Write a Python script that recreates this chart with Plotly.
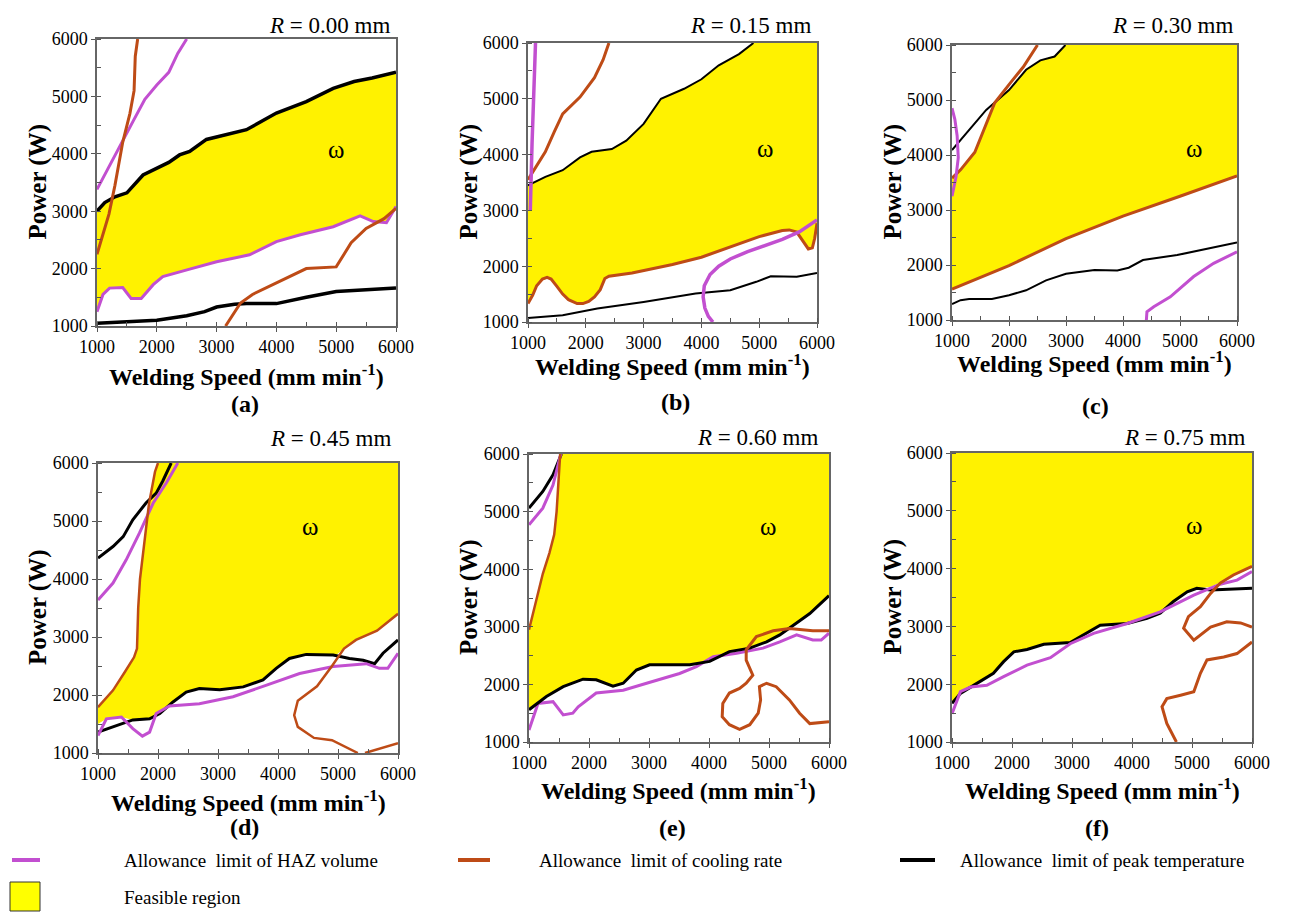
import plotly.graph_objects as go

# ---------------- data ----------------
TICKS = [1000, 2000, 3000, 4000, 5000, 6000]
R_VALUES = ["0.00", "0.15", "0.30", "0.45", "0.60", "0.75"]
PANEL_LABELS = ["(a)", "(b)", "(c)", "(d)", "(e)", "(f)"]
LEGEND_NAMES = ["Allowance  limit of HAZ volume", "Allowance  limit of cooling rate",
                "Allowance  limit of peak temperature", "Feasible region"]

# (a) R = 0.00 mm
a_peak_hi_x = [1000, 1130, 1300, 1500, 1770, 2050, 2200, 2380, 2550, 2830, 3050, 3500, 4000, 4500, 4950, 5300, 5600, 6000]
a_peak_hi_y = [3000, 3150, 3250, 3320, 3630, 3780, 3850, 3980, 4040, 4250, 4310, 4420, 4710, 4910, 5140, 5260, 5320, 5420]
a_peak_lo_x = [1000, 1500, 2000, 2500, 2800, 3000, 3300, 3500, 4000, 4500, 5000, 5500, 6000]
a_peak_lo_y = [1050, 1070, 1100, 1180, 1250, 1330, 1380, 1390, 1390, 1500, 1600, 1630, 1660]
a_haz_hi_x = [1000, 1200, 1400, 1600, 1800, 2000, 2200, 2350, 2500]
a_haz_hi_y = [3380, 3780, 4180, 4560, 4950, 5200, 5420, 5750, 6000]
a_haz_lo_x = [1000, 1100, 1210, 1430, 1570, 1740, 1940, 2100, 2550, 3000, 3550, 4000, 4400, 4950, 5400, 5620, 5840, 6000]
a_haz_lo_y = [1250, 1550, 1660, 1670, 1480, 1480, 1720, 1860, 1990, 2120, 2240, 2470, 2590, 2730, 2920, 2820, 2800, 3080]
a_cool_hi_x = [1000, 1100, 1200, 1300, 1430, 1550, 1620, 1640, 1680]
a_cool_hi_y = [2250, 2600, 2950, 3450, 4200, 4700, 5100, 5700, 6000]
a_cool_lo_x = [3150, 3400, 3600, 4000, 4500, 5000, 5100, 5250, 5500, 5800, 6000]
a_cool_lo_y = [1000, 1400, 1550, 1750, 2000, 2030, 2200, 2450, 2700, 2870, 3050]
a_region_x = [1000, 1130, 1300, 1500, 1770, 2050, 2200, 2380, 2550, 2830, 3050, 3500, 4000, 4500, 4950, 5300, 5600, 6000,
              6000, 5840, 5620, 5400, 4950, 4400, 4000, 3550, 3000, 2550, 2100, 1940, 1740, 1570, 1430, 1210, 1100, 1000]
a_region_y = [3000, 3150, 3250, 3320, 3630, 3780, 3850, 3980, 4040, 4250, 4310, 4420, 4710, 4910, 5140, 5260, 5320, 5420,
              3080, 2800, 2820, 2920, 2730, 2590, 2470, 2240, 2120, 1990, 1860, 1720, 1480, 1480, 1670, 1660, 1550, 1250]

# (b) R = 0.15 mm
b_peak_hi_x = [1000, 1300, 1600, 1900, 2100, 2450, 2700, 3000, 3300, 3700, 4000, 4300, 4650, 4900]
b_peak_hi_y = [3450, 3600, 3720, 3950, 4050, 4100, 4250, 4550, 5000, 5180, 5350, 5600, 5800, 6000]
b_peak_lo_x = [1000, 1600, 2200, 3000, 3900, 4500, 4950, 5200, 5650, 6000]
b_peak_lo_y = [1070, 1120, 1240, 1360, 1510, 1570, 1720, 1820, 1810, 1880]
b_cool_lo_x = [1000, 1080, 1150, 1250, 1330, 1400, 1500, 1600, 1700, 1850, 1950, 2050, 2150, 2250, 2330, 2400,
               2800, 3500, 4000, 4500, 5000, 5400, 5520, 5650, 5780, 5850, 5920, 5960, 6000]
b_cool_lo_y = [1330, 1480, 1650, 1770, 1800, 1770, 1640, 1500, 1400, 1330, 1330, 1370, 1450, 1580, 1780, 1820,
               1880, 2030, 2160, 2340, 2530, 2640, 2650, 2610, 2420, 2310, 2330, 2500, 2770]
b_cool_hi_x = [1000, 1150, 1300, 1450, 1600, 1900, 2150, 2300, 2400]
b_cool_hi_y = [3550, 3800, 4050, 4400, 4730, 5030, 5380, 5700, 6000]
b_haz_left_x = [1040, 1045, 1055, 1070, 1090, 1110, 1130]
b_haz_left_y = [3000, 3300, 3600, 4200, 4800, 5400, 6000]
b_haz_right_x = [4200, 4120, 4060, 4030, 4050, 4150, 4300, 4500, 4800, 5100, 5400, 5700, 6000]
b_haz_right_y = [1000, 1100, 1250, 1450, 1650, 1850, 2000, 2130, 2260, 2370, 2480, 2620, 2830]
b_region_x = [1000, 1300, 1600, 1900, 2100, 2450, 2700, 3000, 3300, 3700, 4000, 4300, 4650, 4900, 6000,
              6000, 5960, 5920, 5850, 5780, 5650, 5520, 5400, 5000, 4500, 4000, 3500, 2800, 2400, 2330, 2250,
              2150, 2050, 1950, 1850, 1700, 1600, 1500, 1400, 1330, 1250, 1150, 1080, 1000]
b_region_y = [3450, 3600, 3720, 3950, 4050, 4100, 4250, 4550, 5000, 5180, 5350, 5600, 5800, 6000, 6000,
              2770, 2500, 2330, 2310, 2420, 2610, 2650, 2640, 2530, 2340, 2160, 2030, 1880, 1820, 1780, 1580,
              1450, 1370, 1330, 1330, 1400, 1500, 1640, 1770, 1800, 1770, 1650, 1480, 1330]

# (c) R = 0.30 mm
c_peak_hi_x = [1000, 1250, 1600, 2000, 2300, 2550, 2800, 2900, 2990]
c_peak_hi_y = [4090, 4400, 4820, 5180, 5550, 5720, 5790, 5900, 6000]
c_peak_lo_x = [1000, 1150, 1300, 1700, 2000, 2300, 2650, 3000, 3500, 3900, 4100, 4350, 4950, 5500, 6000]
c_peak_lo_y = [1290, 1360, 1380, 1380, 1450, 1540, 1720, 1840, 1910, 1900, 1950, 2090, 2180, 2300, 2410]
c_cool_hi_x = [1000, 1150, 1400, 1600, 1750, 2000, 2250, 2500]
c_cool_hi_y = [3580, 3730, 4050, 4550, 4950, 5280, 5600, 6000]
c_cool_lo_x = [1000, 2000, 3000, 4000, 5000, 6000]
c_cool_lo_y = [1560, 1990, 2480, 2890, 3250, 3620]
c_haz_left_x = [1000, 1050, 1090, 1110, 1070, 1000]
c_haz_left_y = [4850, 4650, 4350, 3950, 3600, 3250]
c_haz_right_x = [4410, 4420, 4540, 4830, 5240, 5590, 6000]
c_haz_right_y = [1000, 1150, 1240, 1420, 1790, 2030, 2240]
c_region_x = [1000, 1000, 1150, 1400, 1600, 1760, 2000, 2300, 2550, 2800, 2900, 2990, 6000, 6000, 5000, 4000, 3000, 2000]
c_region_y = [1560, 3580, 3730, 4050, 4550, 4970, 5180, 5550, 5720, 5790, 5900, 6000, 6000, 3620, 3250, 2890, 2480, 1990]

# (d) R = 0.45 mm
d_peak_hi_x = [1000, 1250, 1420, 1580, 1800, 1970, 2080, 2220]
d_peak_hi_y = [4360, 4560, 4730, 5020, 5310, 5480, 5690, 6000]
d_haz_hi_x = [1000, 1250, 1470, 1690, 1920, 2140, 2330]
d_haz_hi_y = [3640, 3930, 4330, 4790, 5310, 5660, 6000]
d_cool_left_x = [1000, 1250, 1450, 1600, 1650, 1670, 1700, 1750, 1850, 1950, 2000]
d_cool_left_y = [1790, 2080, 2400, 2650, 2800, 3500, 4000, 4450, 5300, 5850, 6000]
d_peak_lo_x = [1000, 1250, 1580, 1860, 2030, 2250, 2470, 2690, 3030, 3420, 3750, 3970, 4190, 4470, 4920, 5190, 5420, 5610, 5750, 6000]
d_peak_lo_y = [1360, 1450, 1570, 1590, 1680, 1880, 2050, 2110, 2090, 2140, 2260, 2460, 2630, 2700, 2690, 2630, 2600, 2540, 2720, 2950]
d_haz_lo_x = [1000, 1140, 1390, 1580, 1740, 1860, 1970, 2190, 2690, 3250, 3810, 4360, 4920, 5470, 5690, 5830, 6000]
d_haz_lo_y = [1300, 1590, 1620, 1420, 1290, 1360, 1680, 1810, 1850, 1970, 2170, 2370, 2490, 2540, 2460, 2460, 2720]
d_cool_right_x = [6000, 5650, 5300, 5100, 4900, 4650, 4330, 4270, 4330, 4600, 4900, 5100, 5330]
d_cool_right_y = [3400, 3110, 2950, 2800, 2500, 2150, 1900, 1650, 1450, 1260, 1220, 1120, 1000]
d_cool_bot_x = [5450, 5700, 6000]
d_cool_bot_y = [1000, 1080, 1170]
d_region_x = [1000, 1000, 1250, 1450, 1600, 1650, 1670, 1700, 1750, 1850, 1950, 2000, 6000, 6000, 5650, 5300, 5100, 4960,
              4470, 4190, 3970, 3750, 3420, 3030, 2690, 2470, 2250, 2030, 1860, 1580, 1390, 1140]
d_region_y = [1500, 1790, 2080, 2400, 2650, 2800, 3500, 4000, 4450, 5300, 5850, 6000, 6000, 3400, 3110, 2950, 2800, 2680,
              2700, 2630, 2460, 2260, 2140, 2090, 2110, 2050, 1880, 1680, 1590, 1570, 1620, 1590]

# (e) R = 0.60 mm
e_peak_hi_x = [1000, 1230, 1400, 1510, 1540]
e_peak_hi_y = [5060, 5350, 5640, 5950, 6000]
e_haz_hi_x = [1000, 1230, 1400, 1510, 1530]
e_haz_hi_y = [4770, 5060, 5460, 5950, 6000]
e_cool_hi_x = [1000, 1120, 1230, 1340, 1420, 1460, 1500, 1520]
e_cool_hi_y = [2950, 3450, 3920, 4280, 4600, 5000, 5700, 6000]
e_peak_lo_x = [1000, 1290, 1570, 1900, 2120, 2290, 2400, 2570, 2790, 3010, 3230, 3680, 4010, 4340, 4680, 4960, 5180, 5460, 5680, 6000]
e_peak_lo_y = [1560, 1790, 1960, 2090, 2080, 2020, 1970, 2020, 2250, 2340, 2340, 2340, 2400, 2570, 2630, 2740, 2860, 3060, 3230, 3540]
e_haz_lo_x = [1000, 1150, 1400, 1570, 1730, 1820, 2120, 2570, 2960, 3510, 3790, 4070, 4460, 4900, 5180, 5460, 5730, 5870, 6000]
e_haz_lo_y = [1210, 1670, 1700, 1470, 1500, 1610, 1850, 1900, 2020, 2190, 2310, 2480, 2540, 2630, 2740, 2860, 2770, 2770, 2890]
e_cool_right_x = [6000, 5730, 5340, 5070, 4790, 4620, 4620, 4730, 4620, 4510, 4340, 4230, 4220, 4340, 4510, 4680, 4820,
                  4860, 4840, 4960, 5120, 5340, 5510, 5680, 6000]
e_cool_right_y = [2930, 2930, 2970, 2930, 2830, 2600, 2420, 2160, 2020, 1930, 1850, 1670, 1440, 1300, 1220, 1300, 1500,
                  1730, 1960, 2020, 1960, 1730, 1500, 1320, 1350]
e_region_x = [1000, 1000, 1120, 1230, 1340, 1420, 1460, 1500, 1520, 6000, 6000, 5680, 5460, 5180, 4960, 4680, 4340,
              4010, 3680, 3230, 3010, 2790, 2570, 2400, 2290, 2120, 1900, 1570, 1290]
e_region_y = [1560, 2950, 3450, 3920, 4280, 4600, 5000, 5700, 6000, 6000, 3540, 3230, 3060, 2860, 2740, 2630, 2570,
              2400, 2340, 2340, 2340, 2250, 2020, 1970, 2020, 2080, 2090, 1960, 1790]

# (f) R = 0.75 mm
f_peak_x = [1000, 1140, 1360, 1690, 1860, 2030, 2250, 2530, 2970, 3250, 3470, 3920, 4250, 4470, 4690, 4920, 5080, 5310, 6000]
f_peak_y = [1670, 1840, 1980, 2190, 2390, 2560, 2600, 2690, 2720, 2880, 3020, 3050, 3140, 3230, 3430, 3600, 3660, 3630, 3660]
f_haz_x = [1000, 1140, 1310, 1580, 1860, 2250, 2640, 2970, 3360, 3920, 4470, 5030, 5470, 5750, 6000]
f_haz_y = [1490, 1870, 1950, 1980, 2130, 2330, 2460, 2700, 2880, 3050, 3250, 3540, 3730, 3800, 3950]
f_cool_hi_x = [6000, 5690, 5470, 5310, 5140, 4940, 4860, 5030, 5310, 5580, 5810, 6000]
f_cool_hi_y = [4040, 3890, 3750, 3570, 3340, 3170, 2970, 2760, 2990, 3080, 3060, 2990]
f_cool_lo_x = [4740, 4580, 4500, 4580, 4810, 5030, 5140, 5250, 5530, 5750, 6000]
f_cool_lo_y = [1000, 1320, 1610, 1750, 1810, 1870, 2190, 2420, 2470, 2530, 2730]
f_region_x = [1000, 1000, 6000, 6000, 5690, 5470, 5300, 5080, 4920, 4690, 4470, 4250, 3920, 3470, 3250, 2970, 2530,
              2250, 2030, 1860, 1690, 1360, 1140]
f_region_y = [1670, 6000, 6000, 4040, 3890, 3760, 3680, 3660, 3600, 3430, 3230, 3140, 3050, 3020, 2880, 2720, 2690,
              2600, 2560, 2390, 2190, 1980, 1840]

OMEGA_POS = [(5000, 4070), (5100, 4110), (5240, 4120), (4530, 4900), (4980, 4750), (5030, 4740)]

# ---------------- styling / layout ----------------
W, H = 1293, 912
MAGENTA = "#C24FD0"
ORANGE = "#BE4B16"
BLACK = "#000000"
YELLOW = "#FFF200"
SERIF = "Liberation Serif"


def px(x):
    return x / W


def py(y):
    return 1 - y / H


# plot boxes in pixels: left, top, right, bottom
BOXES = [(97, 39, 396, 326), (528, 43, 817, 322), (952, 45, 1237, 320),
         (98, 463, 398, 753), (529, 454, 829, 742), (952, 453, 1252, 742)]
R_POS = [(392, 25), (813, 25), (1235, 25), (393, 438), (820, 437), (1247, 437)]
LABEL_POS = [(245, 404), (675, 402), (1095, 406), (245, 827), (672, 828), (1097, 828)]
XTITLE_OFF = [49, 43, 42, 48, 47, 47]

MAG, ORG, BLK = MAGENTA, ORANGE, BLACK
panels = [
    dict(region=(a_region_x, a_region_y), lines=[
        (a_peak_hi_x, a_peak_hi_y, BLK, 3.5), (a_peak_lo_x, a_peak_lo_y, BLK, 3.5),
        (a_haz_hi_x, a_haz_hi_y, MAG, 3), (a_haz_lo_x, a_haz_lo_y, MAG, 3),
        (a_cool_hi_x, a_cool_hi_y, ORG, 3), (a_cool_lo_x, a_cool_lo_y, ORG, 3)]),
    dict(region=(b_region_x, b_region_y), lines=[
        (b_peak_hi_x, b_peak_hi_y, BLK, 2), (b_peak_lo_x, b_peak_lo_y, BLK, 2),
        (b_cool_lo_x, b_cool_lo_y, ORG, 3), (b_cool_hi_x, b_cool_hi_y, ORG, 3),
        (b_haz_left_x, b_haz_left_y, MAG, 3.5), (b_haz_right_x, b_haz_right_y, MAG, 3.5)]),
    dict(region=(c_region_x, c_region_y), lines=[
        (c_peak_hi_x, c_peak_hi_y, BLK, 2), (c_peak_lo_x, c_peak_lo_y, BLK, 2),
        (c_cool_hi_x, c_cool_hi_y, ORG, 3), (c_cool_lo_x, c_cool_lo_y, ORG, 3),
        (c_haz_left_x, c_haz_left_y, MAG, 3), (c_haz_right_x, c_haz_right_y, MAG, 3)]),
    dict(region=(d_region_x, d_region_y), lines=[
        (d_peak_hi_x, d_peak_hi_y, BLK, 3), (d_haz_hi_x, d_haz_hi_y, MAG, 3),
        (d_cool_left_x, d_cool_left_y, ORG, 2.5), (d_peak_lo_x, d_peak_lo_y, BLK, 3),
        (d_haz_lo_x, d_haz_lo_y, MAG, 3), (d_cool_right_x, d_cool_right_y, ORG, 2.5),
        (d_cool_bot_x, d_cool_bot_y, ORG, 2.5)]),
    dict(region=(e_region_x, e_region_y), lines=[
        (e_peak_hi_x, e_peak_hi_y, BLK, 3), (e_haz_hi_x, e_haz_hi_y, MAG, 3),
        (e_cool_hi_x, e_cool_hi_y, ORG, 2.5), (e_haz_lo_x, e_haz_lo_y, MAG, 3),
        (e_peak_lo_x, e_peak_lo_y, BLK, 3), (e_cool_right_x, e_cool_right_y, ORG, 3)]),
    dict(region=(f_region_x, f_region_y), lines=[
        (f_peak_x, f_peak_y, BLK, 3), (f_haz_x, f_haz_y, MAG, 3),
        (f_cool_hi_x, f_cool_hi_y, ORG, 3), (f_cool_lo_x, f_cool_lo_y, ORG, 3)]),
]

fig = go.Figure()
annotations = []
shapes = []

for i, p in enumerate(panels):
    n = "" if i == 0 else str(i + 1)
    xa, ya = "x" + n, "y" + n
    rx, ry = p["region"]
    fig.add_trace(go.Scatter(x=rx, y=ry, fill="toself", fillcolor=YELLOW, mode="lines",
                             line=dict(width=0, color=YELLOW), xaxis=xa, yaxis=ya,
                             showlegend=False, hoverinfo="skip"))
    for (lx, ly, col, w) in p["lines"]:
        fig.add_trace(go.Scatter(x=lx, y=ly, mode="lines", line=dict(color=col, width=w),
                                 xaxis=xa, yaxis=ya, showlegend=False))

    l, t, r, b = BOXES[i]
    axis_common = dict(range=[1000, 6000], tickvals=TICKS, ticks="outside", ticklen=4, tickwidth=1.2,
                       tickcolor="#555", showline=True, linecolor="#666", linewidth=1.5, mirror=True,
                       showgrid=False, zeroline=False, automargin=False,
                       minor=dict(ticks="inside", ticklen=4, dtick=500, tickcolor="#555", showgrid=False),
                       tickfont=dict(family=SERIF, size=18, color="black"))
    fig.layout["xaxis" + n] = dict(axis_common, domain=[px(l), px(r)], anchor=ya)
    fig.layout["yaxis" + n] = dict(axis_common, domain=[py(b), py(t)], anchor=xa)

    common_ann = dict(xref="paper", yref="paper", showarrow=False, xanchor="center", yanchor="middle")
    # omega
    ox, oy = OMEGA_POS[i]
    annotations.append(dict(x=ox, y=oy, xref=xa, yref=ya, text="ω", showarrow=False,
                            xanchor="center", yanchor="middle",
                            font=dict(family=SERIF, size=25, color="black")))
    # R label
    rxp, ryp = R_POS[i]
    annotations.append(dict(common_ann, x=px(rxp), y=py(ryp), xanchor="right",
                            text="<i>R</i> = " + R_VALUES[i] + " mm",
                            font=dict(family=SERIF, size=23, color="black")))
    # panel label
    lxp, lyp = LABEL_POS[i]
    annotations.append(dict(common_ann, x=px(lxp), y=py(lyp),
                            text="<b>" + PANEL_LABELS[i] + "</b>",
                            font=dict(family=SERIF, size=24, color="black")))
    # axis titles
    annotations.append(dict(common_ann, x=px((l + r) / 2), y=py(b + XTITLE_OFF[i]),
                            text="<b>Welding Speed (mm min<sup>-1</sup>)</b>",
                            font=dict(family=SERIF, size=24, color="black")))
    annotations.append(dict(common_ann, x=px(l - 60), y=py((t + b) / 2), textangle=-90,
                            text="<b>Power (W)</b>",
                            font=dict(family=SERIF, size=25, color="black")))

# legend (drawn manually)
leg_y = 860
for (x0, x1, col, tx, name) in [(12, 40, MAGENTA, 122, LEGEND_NAMES[0]),
                                (458, 490, ORANGE, 537, LEGEND_NAMES[1]),
                                (900, 935, BLACK, 958, LEGEND_NAMES[2])]:
    shapes.append(dict(type="line", xref="paper", yref="paper", x0=px(x0), x1=px(x1),
                       y0=py(leg_y), y1=py(leg_y), line=dict(color=col, width=4)))
    annotations.append(dict(x=px(tx), y=py(leg_y), xref="paper", yref="paper", xanchor="left",
                            yanchor="middle", showarrow=False, text=name,
                            font=dict(family=SERIF, size=19, color="black")))
shapes.append(dict(type="rect", xref="paper", yref="paper", x0=px(10), x1=px(40), y0=py(911), y1=py(882),
                   fillcolor="#FFFF00", line=dict(color="#333", width=1)))
annotations.append(dict(x=px(122), y=py(897), xref="paper", yref="paper", xanchor="left", yanchor="middle",
                        showarrow=False, text=LEGEND_NAMES[3],
                        font=dict(family=SERIF, size=19, color="black")))

fig.update_layout(template="none", width=W, height=H, margin=dict(l=0, r=0, t=0, b=0, pad=0),
                  paper_bgcolor="white", plot_bgcolor="white", font=dict(family=SERIF, color="black"),
                  annotations=annotations, shapes=shapes, showlegend=False)

fig.write_html("out.html", config={"displayModeBar": False},
               post_script="document.body.style.margin='0px';document.body.style.padding='0px';"
                           "document.body.style.overflow='hidden';")
